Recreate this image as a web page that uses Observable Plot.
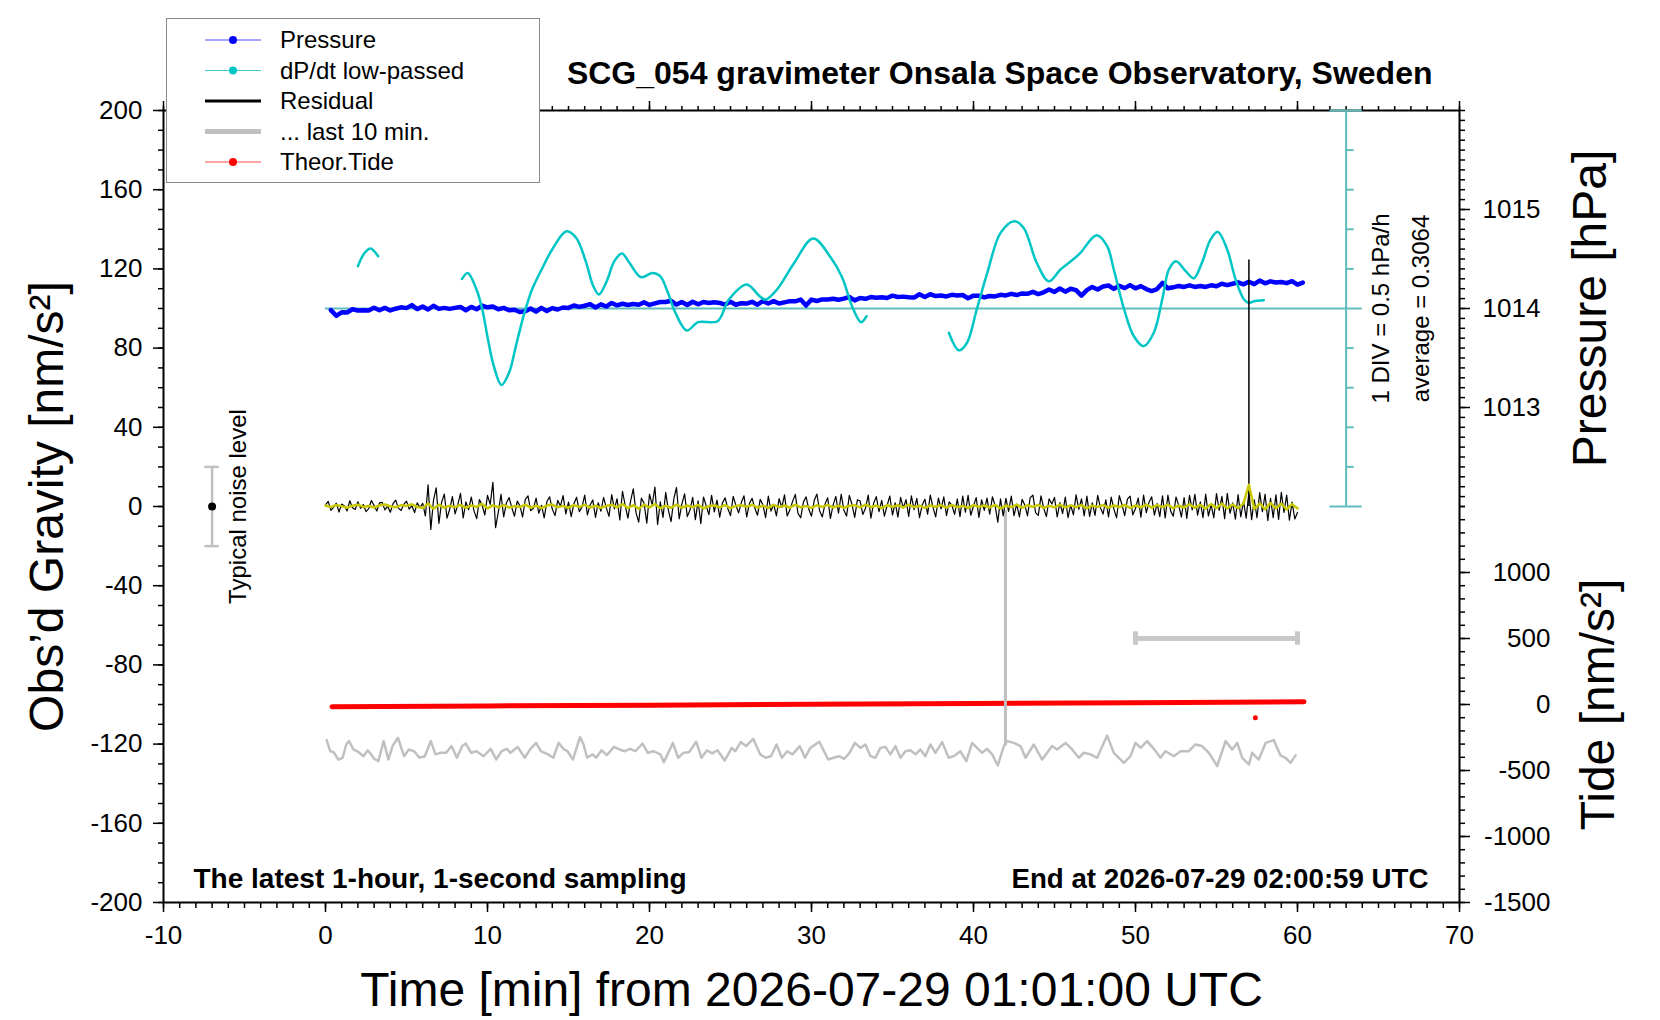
<!DOCTYPE html>
<html><head><meta charset="utf-8">
<script src="https://cdn.jsdelivr.net/npm/d3@7"></script>
<script src="https://cdn.jsdelivr.net/npm/@observablehq/plot@0.6"></script>
<style>
html,body{margin:0;padding:0;background:#fff;}
#wrap{position:relative;width:1660px;height:1020px;font-family:"Liberation Sans",Arial,Helvetica,sans-serif;}
#legend{position:absolute;left:166px;top:18px;width:374px;height:165px;box-sizing:border-box;border:1.5px solid #8a8a8a;background:#fff;}
</style></head><body><div id="wrap"><div id="legend"></div></div>
<script>
// ---------------- data ----------------
const titleText = "SCG_054 gravimeter Onsala Space Observatory, Sweden";
const xLabel = "Time [min] from 2026-07-29 01:01:00 UTC";
const yLabel = "Obs\u2019d Gravity [nm/s\u00b2]";
const pLabel = "Pressure [hPa]";
const tideLabel = "Tide [nm/s\u00b2]";
const noteLeft = "The latest 1-hour, 1-second sampling";
const noteRight = "End at 2026-07-29 02:00:59 UTC";
const divText = "1 DIV = 0.5 hPa/h";
const dpAvg = 0.3064;
const avgText = "average = " + dpAvg;
const noiseText = "Typical noise level";

const timeTicks = [-10, 0, 10, 20, 30, 40, 50, 60, 70];
const gravityTicks = [-200, -160, -120, -80, -40, 0, 40, 80, 120, 160, 200];
const pressureTicks = [1013, 1014, 1015];
const tideTicks = [-1500, -1000, -500, 0, 500, 1000];

// pressure, hPa, every 20 s starting at 0.33 min
const pressureStart = 0.33, pressureStep = 1 / 3;
const pressure = [
1013.984,1013.926,1013.962,1013.960,1013.992,1013.980,1013.982,1013.980,1014.008,1013.982,1014.006,1013.980,
1013.998,1014.012,1014.004,1014.034,1013.994,1014.020,1013.990,1014.028,1013.996,1014.006,1013.996,1014.006,
1014.016,1013.982,1014.016,1013.992,1014.028,1014.012,1014.020,1013.992,1014.006,1013.982,1013.988,1013.964,
1013.972,1014.000,1013.968,1014.006,1013.974,1014.004,1013.990,1014.010,1014.006,1014.030,1014.016,1014.028,
1014.044,1014.010,1014.042,1014.020,1014.056,1014.032,1014.048,1014.036,1014.046,1014.038,1014.062,1014.036,
1014.052,1014.066,1014.066,1014.078,1014.040,1014.066,1014.036,1014.068,1014.042,1014.066,1014.056,1014.064,
1014.056,1014.040,1014.068,1014.038,1014.054,1014.050,1014.068,1014.038,1014.074,1014.050,1014.074,1014.050,
1014.062,1014.074,1014.072,1014.090,1014.030,1014.090,1014.076,1014.092,1014.090,1014.098,1014.088,1014.100,
1014.116,1014.082,1014.106,1014.098,1014.116,1014.108,1014.114,1014.106,1014.130,1014.116,1014.120,1014.114,
1014.110,1014.144,1014.116,1014.144,1014.126,1014.132,1014.122,1014.138,1014.132,1014.136,1014.104,1014.130,
1014.130,1014.112,1014.126,1014.122,1014.138,1014.132,1014.148,1014.136,1014.152,1014.148,1014.168,1014.146,
1014.164,1014.192,1014.168,1014.202,1014.170,1014.200,1014.186,1014.130,1014.186,1014.218,1014.192,1014.222,
1014.232,1014.198,1014.230,1014.206,1014.236,1014.204,1014.226,1014.196,1014.176,1014.196,1014.258,1014.204,
1014.214,1014.228,1014.218,1014.234,1014.218,1014.228,1014.218,1014.234,1014.224,1014.250,1014.236,1014.250,
1014.264,1014.244,1014.270,1014.246,1014.282,1014.254,1014.274,1014.262,1014.268,1014.256,1014.276,1014.242,
1014.262];

// dP/dt low-passed, hPa/h (NaN = gap)
const dpdtT = [2.0,2.4,2.78,3.0,3.25,NaN,
8.43,8.78,9.32,9.68,10.03,10.39,10.86,11.33,11.8,12.28,12.75,13.34,14.05,14.88,15.47,16.06,16.53,16.88,17.36,17.83,
18.3,18.77,19.48,20.19,20.66,21.14,21.6,22.3,23.0,24.2,24.9,26.0,26.8,27.16,27.87,28.93,30.1,31.2,31.9,32.5,33.06,33.4,NaN,
38.48,39.1,39.6,40.2,40.85,41.67,42.5,43.1,43.9,44.65,45.37,46.2,46.6,47.6,48.25,48.66,49.3,49.9,50.5,51.13,51.65,
52.06,52.5,53.1,53.6,54.1,54.63,55.08,55.66,56.17,56.7,57.0,57.3,57.92];
const dpdtV = [0.841,1.004,1.064,1.031,0.966,NaN,
0.681,0.756,0.546,0.294,-0.086,-0.421,-0.661,-0.506,-0.126,0.251,0.546,0.799,1.071,1.281,1.199,0.904,0.589,0.484,0.651,0.904,
1.001,0.881,0.701,0.756,0.714,0.504,0.251,0.029,0.134,0.146,0.419,0.609,0.461,0.419,0.546,0.881,1.191,0.946,0.694,0.336,0.134,0.209,NaN,
0.001,-0.221,-0.126,0.294,0.756,1.261,1.409,1.324,0.884,0.651,0.799,0.934,1.009,1.231,1.094,0.799,0.294,-0.044,-0.169,0.001,0.419,
0.799,0.904,0.779,0.689,0.884,1.176,1.274,1.051,0.679,0.419,0.376,0.399,0.411];

// residual, nm/s^2, every 10 s
const residualStep = 1 / 6;
const residual = [
0.8,2.6,-1.9,-0.4,1.7,-2.8, 1.2,0.3,-2.2,2.9,-0.6,-1.5, 2.4,-0.9,1.0,-2.6,-1.1,3.0, 0.5,-2.3,1.8,2.1,-1.7,0.2,
-2.9,1.4,3.2,-0.8,-2.0,1.1, 2.7,-1.3,0.4,-3.1,1.9,-0.5, 1.6,-4.8,10.9,-11.6,3.2,9.4, -8.5,2.1,6.3,-5.9,-1.4,5.0,
-3.7,0.9,6.6,-5.8,2.3,-1.6, 4.8,-2.2,-6.1,3.5,0.7,-4.3, 5.6,1.1,12.2,-10.7,-2.8,6.1, -5.2,1.8,4.5,-0.6,-4.9,2.7,
0.4,-5.3,3.6,5.4,-2.1,-0.9, 4.2,-3.4,0.6,-5.7,2.5,4.9, -1.3,-4.6,3.1,0.2,5.5,-3.8, 2.2,-5.1,1.4,4.7,-2.6,-0.3,
5.8,-4.2,0.8,3.3,-5.5,1.9, -2.4,4.6,-0.7,-5.0,6.0,-1.2, 3.9,-6.8,7.7,0.5,-5.9,2.8, 8.9,-3.1,-7.9,4.2,1.6,-8.4,
6.2,0.9,9.8,-9.1,2.4,-5.5, 7.1,-2.0,-7.6,3.8,9.6,-6.2, 1.3,6.4,-5.1,-1.8,4.6,-6.6, 2.9,-8.7,4.8,0.3,-4.1,5.6,
-2.7,3.2,-5.4,1.7,4.4,-1.0, -4.6,5.1,0.6,-3.2,2.0,5.4, -5.3,1.5,4.1,-0.8,-4.4,3.6, 0.9,-5.6,5.2,-2.3,1.1,-4.7,
4.0,-0.5,5.9,-4.8,-1.7,2.6, 6.1,-3.5,-5.7,2.2,4.9,-1.4, -4.9,3.0,6.3,-2.1,-5.3,1.2, 4.4,-6.0,0.7,5.1,-3.3,6.2,
-1.9,-4.8,5.6,1.0,-5.5,3.4, 2.8,-4.0,-0.9,5.8,-5.9,1.6, 5.0,-2.6,3.1,-4.9,0.4,5.3, -4.3,1.9,-5.4,4.6,-0.7,3.5,
-5.0,5.4,-1.6,4.1,-5.6,0.8, 3.7,-3.9,5.8,-0.4,-5.2,4.3, -1.2,4.9,-4.6,2.4,0.6,-4.0, 3.8,-5.1,5.2,-2.9,5.6,-4.4,
0.3,4.5,-5.5,3.3,-2.0,4.2, -3.9,4.9,0.5,-7.9,3.8,-4.8, 4.1,-2.5,5.3,-4.6,1.2,-5.2, 3.6,0.8,-4.7,4.5,5.7,-3.1,
-4.5,5.4,-0.9,-5.1,3.9,1.3, 4.6,-5.3,2.0,-3.6,4.8,-5.6, 0.7,-4.2,5.9,-1.5,3.9,-4.8, 5.2,-5.0,1.8,-4.5,5.6,-0.6,
-3.8,3.4,-5.2,4.7,-1.3,-5.7, 5.5,0.9,-4.6,3.7,5.2,-4.2, -1.0,4.3,-5.4,5.8,-3.1,2.1, 4.9,-4.4,1.5,-5.1,5.4,-5.8,
5.7,-2.2,-4.9,4.8,0.6,-5.3, 4.5,-6.0,5.6,-1.7,6.1,-4.4, 2.3,-5.6,6.3,-4.8,0.9,-5.7, 6.5,-2.0,5.1,-6.1,6.7,-3.4,
1.8,-6.4,6.0,-5.2,2.7,-5.9, 7.3,-6.6,3.4,-5.7,7.0,-2.6, 6.2,-7.1,4.1,-5.6,5.9,-6.5, 7.1,-3.0,5.7,-6.9,2.2,-6.3,
-3.0];
const residualSpike = [{t: 57.0, lo: 0, hi: 124.5}];

// smoothed residual (yellow), every 20 s
const smoothStep = 1 / 3;
const smoothed = [
0.5,-0.3,0.8, 0.2,-0.6,0.4, 0.9,-0.2,0.3, -0.5,0.6,1.0, 0.1,-0.4,0.7, 0.3,1.1,-0.2, -0.8,1.5,-1.2, 0.9,-0.6,0.4,
-0.3,0.8,-0.7, 0.5,-0.2,1.3, -0.9,0.6,-0.4, 0.7,-0.5,0.2, -0.3,0.9,-0.6, 0.4,-0.8,0.5, 1.0,-0.4,0.3, -0.6,0.7,-0.2,
0.8,-0.5,0.4, -0.7,0.3,0.9, -0.4,1.2,-0.8, 0.6,-1.1,0.9, -0.5,1.3,-0.9, 0.4,-0.7,1.0, -0.6,0.5,-0.3, 0.8,-0.9,0.2,
0.5,-0.4,0.7, -0.8,0.3,0.6, -0.2,0.9,-0.5, 0.4,-0.7,0.8, -0.3,0.5,-0.6, 0.9,-0.4,0.2, -0.7,0.6,-0.2, 0.8,-0.5,0.4,
-0.6,0.3,0.7, -0.4,0.9,-0.3, 0.5,-0.8,0.6, -0.2,0.7,-0.5, 0.9,-0.3,0.4, -0.7,0.5,-0.1, 0.6,-0.6,0.8, -0.4,0.3,-0.7,
0.7,-0.2,0.5, -0.5,0.8,-1.0, 0.4,-0.3,0.9, -0.6,0.6,-0.2, 0.8,-0.7,0.3, -0.4,0.9,-0.5, 0.6,-0.3,0.7, -0.8,0.4,-0.2,
0.7,-0.6,0.5, -0.3,0.8,-0.7, 0.5,-0.4,1.0, -0.6,0.7,-0.3, 0.9,-0.8,0.4, -0.5,1.1,-0.6, 0.8,-1.0,1.2, -0.7,1.4,-0.9,
1.0,-0.8,1.6, 11.0,-1.2,1.5, -1.3,1.8,-0.9, 1.4,-1.5,1.2, -1.0];

// "last 10 min." trace (grey), display values on the gravity axis
const lastT = [0.07,0.29,0.51,0.79,1.06,1.28,1.45,1.72,2.05,2.34,2.6,2.82,3.0,3.26,3.59,3.88,4.14,4.47,4.85,5.14,5.47,5.8,6.13,6.5,
6.79,7.12,7.45,7.78,8.11,8.44,8.66,8.99,9.32,9.76,10.2,10.53,10.87,11.2,11.42,11.86,12.3,12.63,13.0,13.29,13.73,14.06,14.39,14.72,
14.94,15.27,15.71,15.93,16.15,16.49,16.71,17.04,17.37,17.81,18.14,18.47,18.8,19.13,19.57,19.9,20.23,20.67,20.89,21.44,21.77,22.1,
22.44,22.88,23.21,23.54,23.87,24.2,24.64,25.08,25.3,25.63,25.96,26.4,26.84,27.17,27.5,27.84,28.17,28.5,28.83,29.27,29.6,29.93,
30.48,31.03,31.36,31.69,32.02,32.35,32.68,33.02,33.33,33.64,33.95,34.25,34.56,34.87,35.18,35.49,35.8,36.11,36.42,36.72,37.03,37.34,
37.65,38.06,38.47,38.78,39.19,39.56,39.91,40.22,40.53,40.84,41.15,41.5,41.87,42.08,42.49,42.9,43.21,43.72,44.24,44.85,45.16,45.68,
46.09,46.5,46.81,47.22,47.63,48.25,48.66,49.28,49.69,50.0,50.31,50.72,51.13,51.54,51.85,52.37,52.78,53.29,53.7,54.11,54.53,55.04,
55.56,55.97,56.28,56.59,57.0,57.2,57.61,58.03,58.54,58.95,59.26,59.57,59.88];
const lastV = [-118.0,-123.6,-124.1,-127.8,-126.9,-120.2,-118.5,-122.7,-124.1,-126.1,-123.2,-125.2,-127.4,-128.6,-118.5,-127.8,-121.0,-116.8,-126.1,-122.7,-123.6,-126.9,-126.1,-118.5,
-125.2,-124.4,-124.4,-121.0,-126.9,-121.0,-119.7,-124.4,-123.6,-126.1,-122.4,-127.8,-123.6,-122.4,-124.4,-121.4,-126.9,-122.7,-119.4,-123.6,-125.2,-126.9,-119.4,-122.7,
-123.6,-127.8,-116.5,-120.2,-126.9,-125.2,-126.9,-123.1,-125.6,-121.4,-122.7,-123.6,-122.4,-123.6,-119.7,-124.4,-123.6,-125.2,-129.1,-119.4,-126.9,-124.4,
-124.1,-118.8,-126.9,-123.2,-124.7,-123.1,-128.3,-121.9,-123.6,-119.0,-121.0,-117.3,-125.2,-126.9,-126.1,-120.2,-126.9,-123.6,-125.2,-121.0,-126.9,-121.9,
-118.8,-127.8,-126.9,-126.1,-127.4,-124.4,-119.4,-121.9,-120.2,-126.1,-126.9,-121.9,-121.4,-125.2,-121.0,-126.9,-123.6,-123.1,-125.2,-122.7,-126.1,-120.2,
-124.4,-119.0,-126.9,-126.1,-123.6,-128.6,-119.4,-121.9,-124.4,-122.4,-125.2,-130.8,-121.0,-118.5,-119.4,-121.0,-126.9,-120.2,-127.8,-121.0,-122.7,-119.4,
-122.7,-126.9,-124.4,-125.2,-126.9,-115.7,-124.4,-129.5,-126.1,-119.4,-121.9,-118.5,-122.4,-126.9,-123.6,-126.1,-123.6,-123.6,-120.2,-121.0,-124.4,-131.1,
-118.5,-122.7,-119.4,-126.9,-130.3,-124.4,-127.8,-119.4,-118.0,-125.7,-126.9,-129.5,-125.7];
const lastSpike = [{t: 41.97, lo: -121, hi: -2}];
const lastWindow = [{start: 50, end: 60, level: -66.7}];

// theoretical tide, nm/s^2
const tideT = [0.4, 10, 20, 30, 40, 50, 60.4];
const tideV = [-17, -11, -5, 1, 8, 14, 20];
const tideOutlier = [{t: 57.4, v: -101}];

// typical noise level
const noiseLevel = [{t: -7, mean: 0, sigma: 20}];
const noiseTextX = -5.4;

// dP/dt scale bar
const divScaleX = 63.0;
const divCount = 5;
const divSize = 0.5;
const avgLineStart = 0;

// legend
const legendLabels = ["Pressure", "dP/dt low-passed", "Residual", "... last 10 min.", "Theor.Tide"];
const legendLine = ["#4a4aff", "#45cccc", "#000000", "#c0c0c0", "#ff4a4a"];
const legendLineW = [1, 1, 3, 5, 1];
const legendDot = ["#0000ff", "#00c5c5", null, null, "#ff0000"];

// ---------------- conversions to the gravity axis ----------------
const pToG = p => 100 + (p - 1014) * 50;
const tideToG = v => -100 + v / 15;
const dpToG = v => 100 + (v - dpAvg) / divSize * 20;

const pressureData = pressure.map((p, i) => ({t: pressureStart + i * pressureStep, g: pToG(p)}));
const dpdtData = dpdtT.map((t, i) => ({t, g: dpToG(dpdtV[i])}));
const residualData = residual.map((v, i) => ({t: i * residualStep, g: v}));
const smoothData = smoothed.map((v, i) => ({t: i * smoothStep, g: v}));
const lastData = lastT.map((t, i) => ({t, g: lastV[i]}));
const tideData = tideT.map((t, i) => ({t, g: tideToG(tideV[i])}));
const divs = d3.range(-divCount, divCount + 1).map(k => dpAvg + k * divSize);
const divInner = divs.filter((d, i) => i > 0 && i < divs.length - 1 && i !== divCount);
const divEnds = [divs[0], divs[divs.length - 1]];

const font = "Liberation Sans, Arial, Helvetica, sans-serif";
const teal = "#5fbdbd";

const chart = Plot.plot({
  width: 1660, height: 1020,
  marginLeft: 163, marginRight: 201, marginTop: 110, marginBottom: 118,
  x: {domain: [-10, 70]},
  y: {domain: [-200, 200]},
  style: {fontFamily: font, fontSize: "26px", color: "black", background: "white", overflow: "visible"},
  marks: [
    // axes
    Plot.axisY({ticks: gravityTicks, tickSize: 10, tickPadding: 11, strokeWidth: 1.5, tickFormat: d => String(d), label: null}),
    Plot.axisY({ticks: d3.range(-200, 201, 10), tickSize: 5, strokeWidth: 1.5, tickFormat: () => "", label: null}),
    Plot.axisX({ticks: timeTicks, tickSize: 10, tickPadding: 13, strokeWidth: 1.5, tickFormat: d => String(d), label: null}),
    Plot.axisX({ticks: d3.range(-10, 71, 1), tickSize: 6, strokeWidth: 1.5, tickFormat: () => "", label: null}),
    Plot.axisX({anchor: "top", ticks: timeTicks, tickSize: 10, strokeWidth: 1.5, tickFormat: () => "", label: null}),
    Plot.axisX({anchor: "top", ticks: d3.range(-10, 71, 1), tickSize: 5, strokeWidth: 1.5, tickFormat: () => "", label: null}),
    Plot.axisY({anchor: "right", ticks: pressureTicks.map(pToG), tickSize: 10, tickPadding: 13, strokeWidth: 1.5,
      tickFormat: g => String(Math.round(1014 + (g - 100) / 50)), label: null}),
    Plot.axisY({anchor: "right", ticks: d3.range(1012, 1016.001, 0.1).map(pToG), tickSize: 5, strokeWidth: 1.5, tickFormat: () => "", label: null}),
    Plot.axisY({anchor: "right", ticks: tideTicks.map(tideToG), tickSize: 10, strokeWidth: 1.5, tickFormat: () => "", label: null}),
    Plot.axisY({anchor: "right", ticks: d3.range(-1500, 1501, 100).map(tideToG), tickSize: 5, strokeWidth: 1.5, tickFormat: () => "", label: null}),
    Plot.text(tideTicks, {y: d => tideToG(d), text: d => String(d), frameAnchor: "right", dx: 91, textAnchor: "end", fontSize: 26}),
    Plot.frame({stroke: "black", strokeWidth: 2}),

    // tide
    Plot.line(tideData, {x: "t", y: "g", stroke: "#ff0000", strokeWidth: 5, strokeLinecap: "round"}),
    Plot.dot(tideOutlier, {x: "t", y: d => tideToG(d.v), r: 2.5, fill: "#ff0000", stroke: null}),

    // last 10 min
    Plot.line(lastData, {x: "t", y: "g", stroke: "#c0c0c0", strokeWidth: 2.5}),
    Plot.ruleX(lastSpike, {x: "t", y1: "lo", y2: "hi", stroke: "#c0c0c0", strokeWidth: 3}),
    Plot.ruleY(lastWindow, {y: "level", x1: "start", x2: "end", stroke: "#c8c8c8", strokeWidth: 5}),
    Plot.ruleX(lastWindow, {x: "start", y1: d => d.level - 3.4, y2: d => d.level + 3.4, stroke: "#c8c8c8", strokeWidth: 5}),
    Plot.ruleX(lastWindow, {x: "end", y1: d => d.level - 3.4, y2: d => d.level + 3.4, stroke: "#c8c8c8", strokeWidth: 5}),

    // dP/dt scale
    Plot.ruleY([dpAvg], {y: dpToG, x1: avgLineStart, x2: divScaleX + 1, stroke: teal, strokeWidth: 2}),
    Plot.ruleX([divScaleX], {y1: dpToG(divs[0]), y2: dpToG(divs[divs.length - 1]), stroke: teal, strokeWidth: 2}),
    Plot.ruleY(divInner, {y: dpToG, x1: divScaleX, x2: divScaleX + 0.5, stroke: teal, strokeWidth: 2}),
    Plot.ruleY(divEnds, {y: dpToG, x1: divScaleX - 1, x2: divScaleX + 1, stroke: teal, strokeWidth: 2}),

    // pressure & dP/dt
    Plot.line(pressureData, {x: "t", y: "g", stroke: "#0000ff", strokeWidth: 4.5, strokeLinejoin: "round"}),
    Plot.line(dpdtData, {x: "t", y: "g", stroke: "#00c5c5", strokeWidth: 2.5, curve: "catmull-rom"}),

    // residual
    Plot.line(residualData, {x: "t", y: "g", stroke: "#000000", strokeWidth: 1.2}),
    Plot.ruleX(residualSpike, {x: "t", y1: "lo", y2: "hi", stroke: "#000000", strokeWidth: 1.5}),
    Plot.line(smoothData, {x: "t", y: "g", stroke: "#c8c800", strokeWidth: 2.5}),

    // noise level
    Plot.ruleX(noiseLevel, {x: "t", y1: d => d.mean - d.sigma, y2: d => d.mean + d.sigma, stroke: "#c0c0c0", strokeWidth: 2.5}),
    Plot.ruleY(noiseLevel, {y: d => d.mean - d.sigma, x1: d => d.t - 0.45, x2: d => d.t + 0.45, stroke: "#c0c0c0", strokeWidth: 2.5}),
    Plot.ruleY(noiseLevel, {y: d => d.mean + d.sigma, x1: d => d.t - 0.45, x2: d => d.t + 0.45, stroke: "#c0c0c0", strokeWidth: 2.5}),
    Plot.dot(noiseLevel, {x: "t", y: "mean", r: 4, fill: "black", stroke: null}),
    Plot.text(noiseLevel, {x: () => noiseTextX, y: "mean", text: () => noiseText, rotate: -90, fontSize: 24, textAnchor: "middle", lineAnchor: "middle"}),

    // annotations
    Plot.text([divText], {y: () => dpToG(dpAvg), frameAnchor: "right", dx: -78, rotate: -90, fontSize: 24, textAnchor: "middle", lineAnchor: "middle"}),
    Plot.text([avgText], {y: () => dpToG(dpAvg), frameAnchor: "right", dx: -38, rotate: -90, fontSize: 24, textAnchor: "middle", lineAnchor: "middle"}),
    Plot.text([titleText], {frameAnchor: "top-right", dx: -27, dy: -37, textAnchor: "end", lineAnchor: "middle", fontSize: 32, fontWeight: "bold"}),
    Plot.text([noteLeft], {frameAnchor: "bottom-left", dx: 30, dy: -23, textAnchor: "start", lineAnchor: "middle", fontSize: 28, fontWeight: "bold"}),
    Plot.text([noteRight], {frameAnchor: "bottom-right", dx: -31, dy: -23, textAnchor: "end", lineAnchor: "middle", fontSize: 27.7, fontWeight: "bold"}),
    Plot.text([yLabel], {frameAnchor: "left", dx: -116, rotate: -90, fontSize: 48, textAnchor: "middle", lineAnchor: "middle"}),
    Plot.text([xLabel], {frameAnchor: "bottom", dy: 88, fontSize: 48, textAnchor: "middle", lineAnchor: "middle"}),
    Plot.text([pLabel], {y: () => pToG(1014), frameAnchor: "right", dx: 131, rotate: -90, fontSize: 48, textAnchor: "middle", lineAnchor: "middle"}),
    Plot.text([tideLabel], {y: () => tideToG(0), frameAnchor: "right", dx: 139, rotate: -90, fontSize: 48, textAnchor: "middle", lineAnchor: "middle"})
  ]
});

const wrap = document.getElementById("wrap");
wrap.insertBefore(chart, wrap.firstChild);

// legend
const lsvg = d3.select("#legend").append("svg").attr("width", 371).attr("height", 162)
  .style("position", "absolute").style("left", "0px").style("top", "0px");
const rowY = i => 21 + i * 30.5;
legendLabels.forEach((lab, i) => {
  const g = lsvg.append("g");
  g.append("line").attr("x1", 38).attr("x2", 94).attr("y1", rowY(i)).attr("y2", rowY(i))
    .attr("stroke", legendLine[i]).attr("stroke-width", legendLineW[i]);
  if (legendDot[i]) g.append("circle").attr("cx", 66).attr("cy", rowY(i)).attr("r", 4).attr("fill", legendDot[i]);
  g.append("text").attr("x", 113).attr("y", rowY(i)).attr("dy", "0.35em")
    .attr("font-family", font).attr("font-size", 24).attr("fill", "black").text(lab);
});
</script></body></html>
